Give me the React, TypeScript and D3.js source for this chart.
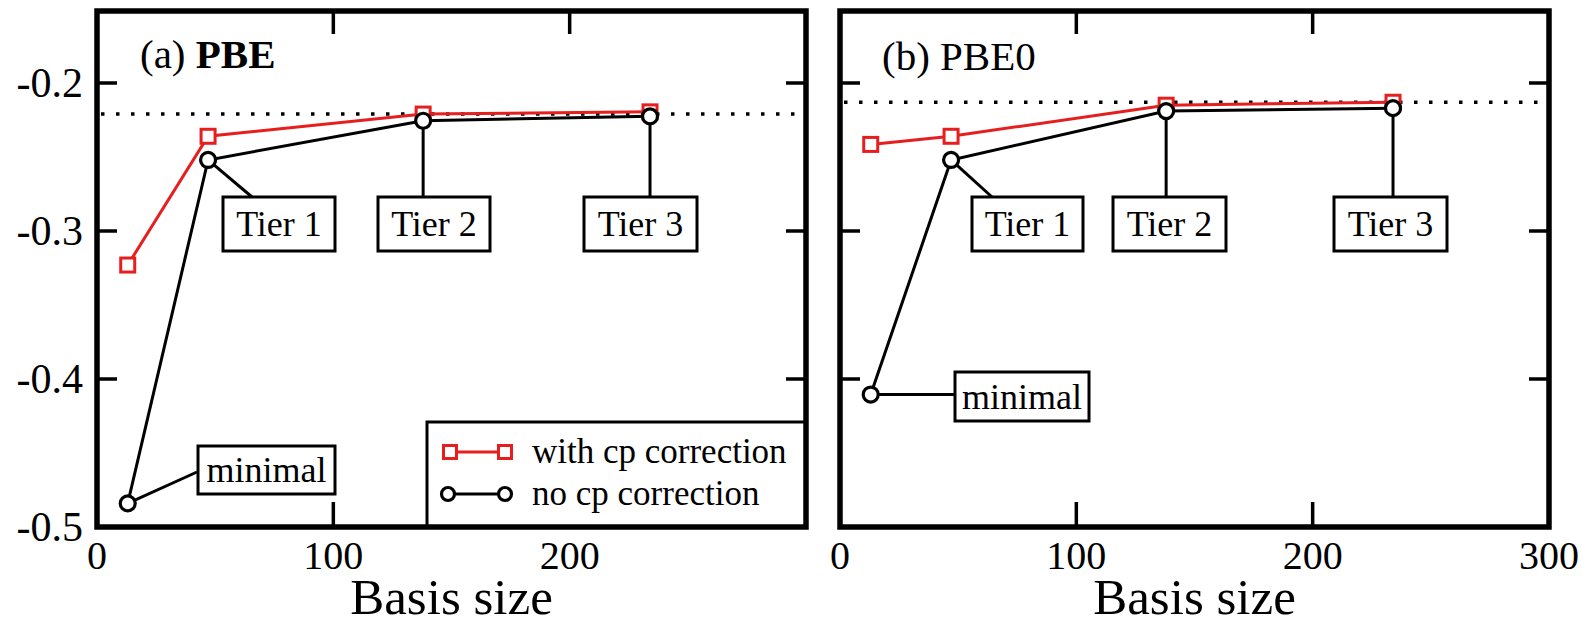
import * as d3 from 'd3';
import React from 'react';

// basis sizes of the four basis sets
const basisSize = [13, 47, 138, 234];
const tierNames = ['minimal', 'Tier 1', 'Tier 2', 'Tier 3'];

// (a) PBE binding energies
const pbeWithCp = [-0.323, -0.236, -0.221, -0.2195];
const pbeNoCp = [-0.484, -0.252, -0.2255, -0.2225];
const pbeReference = -0.221;

// (b) PBE0 binding energies
const pbe0WithCp = [-0.2415, -0.236, -0.215, -0.213];
const pbe0NoCp = [-0.4105, -0.252, -0.219, -0.217];
const pbe0Reference = -0.213;

const xTicks = [0, 100, 200, 300];
const yTicks = [-0.5, -0.4, -0.3, -0.2];
const legendLabels = ['with cp correction', 'no cp correction'];

const RED = '#e61e1e';
const FONT = '"Liberation Serif", "DejaVu Serif", serif';
const TOP = 9;
const BOTTOM = 527;

const panels = [
  {
    key: 'a',
    left: 97,
    right: 806,
    prefix: '(a) ',
    name: 'PBE',
    bold: true,
    titleX: 140,
    titleY: 68,
    withCp: pbeWithCp,
    noCp: pbeNoCp,
    reference: pbeReference,
    xLabels: [0, 100, 200],
    yLabels: true,
    legend: true,
    boxes: [
      { x: 198, y: 446, w: 137, h: 48, ax: 197, ay: 472 },
      { x: 223, y: 197, w: 112, h: 54, ax: 252, ay: 197 },
      { x: 378, y: 197, w: 112, h: 54, ax: null, ay: 197 },
      { x: 584, y: 197, w: 113, h: 54, ax: null, ay: 197 },
    ],
  },
  {
    key: 'b',
    left: 840,
    right: 1549,
    prefix: '(b) ',
    name: 'PBE0',
    bold: false,
    titleX: 882,
    titleY: 70,
    withCp: pbe0WithCp,
    noCp: pbe0NoCp,
    reference: pbe0Reference,
    xLabels: [0, 100, 200, 300],
    yLabels: false,
    legend: false,
    boxes: [
      { x: 955, y: 372, w: 134, h: 49, ax: 955, ay: null },
      { x: 972, y: 197, w: 111, h: 54, ax: 992, ay: 197 },
      { x: 1113, y: 197, w: 113, h: 54, ax: null, ay: 197 },
      { x: 1334, y: 197, w: 113, h: 54, ax: null, ay: 197 },
    ],
  },
];

function Square({ x, y, s = 14 }) {
  return <rect x={x - s / 2} y={y - s / 2} width={s} height={s} fill="#fff" stroke={RED} strokeWidth={3} />;
}

function Ring({ x, y, r = 7.5 }) {
  return <circle cx={x} cy={y} r={r} fill="#fff" stroke="#000" strokeWidth={3.2} />;
}

function Panel({ p }) {
  const x = d3.scaleLinear().domain([0, 300]).range([p.left, p.right]);
  const y = d3.scaleLinear().domain([-0.5, -0.15]).range([BOTTOM, TOP]);
  const line = d3.line<number>()
    .x((_, i) => x(basisSize[i]))
    .y(d => y(d));

  return (
    <g>
      {/* reference level */}
      <line x1={p.left + 4} x2={p.right - 4} y1={y(p.reference)} y2={y(p.reference)}
        stroke="#000" strokeWidth={3.5} strokeDasharray="3.5 11.5" />

      {/* callout lines */}
      {p.boxes.map((b, i) => {
        const px = x(basisSize[i]);
        const py = y(p.noCp[i]);
        return (
          <line key={'c' + i} x1={px} y1={py} x2={b.ax == null ? px : b.ax} y2={b.ay == null ? py : b.ay}
            stroke="#000" strokeWidth={3} />
        );
      })}

      <path d={line(p.withCp)} fill="none" stroke={RED} strokeWidth={3} />
      <path d={line(p.noCp)} fill="none" stroke="#000" strokeWidth={3} />
      {p.withCp.map((v, i) => <Square key={'s' + i} x={x(basisSize[i])} y={y(v)} />)}
      {p.noCp.map((v, i) => <Ring key={'r' + i} x={x(basisSize[i])} y={y(v)} />)}

      {/* labels for basis sets */}
      {p.boxes.map((b, i) => (
        <g key={'b' + i}>
          <rect x={b.x} y={b.y} width={b.w} height={b.h} fill="#fff" stroke="#000" strokeWidth={3} />
          <text x={b.x + b.w / 2} y={b.y + b.h / 2 + 12} textAnchor="middle" fontSize={36} fontFamily={FONT}>
            {tierNames[i]}
          </text>
        </g>
      ))}

      {/* ticks */}
      {yTicks.filter(t => t > -0.5).map(t => (
        <g key={'y' + t}>
          <line x1={p.left} x2={p.left + 20} y1={y(t)} y2={y(t)} stroke="#000" strokeWidth={3.5} />
          <line x1={p.right} x2={p.right - 20} y1={y(t)} y2={y(t)} stroke="#000" strokeWidth={3.5} />
        </g>
      ))}
      {xTicks.filter(t => t > 0 && t < 300).map(t => (
        <g key={'x' + t}>
          <line x1={x(t)} x2={x(t)} y1={TOP} y2={TOP + 25} stroke="#000" strokeWidth={3.5} />
          <line x1={x(t)} x2={x(t)} y1={BOTTOM} y2={BOTTOM - 25} stroke="#000" strokeWidth={3.5} />
        </g>
      ))}

      {p.legend && (
        <g>
          <rect x={427} y={422} width={p.right - 427} height={BOTTOM - 422} fill="#fff" stroke="#000" strokeWidth={3} />
          <line x1={450} x2={505} y1={452} y2={452} stroke={RED} strokeWidth={3} />
          <Square x={450} y={452} s={13} />
          <Square x={505} y={452} s={13} />
          <line x1={448} x2={505} y1={494} y2={494} stroke="#000" strokeWidth={3} />
          <Ring x={448} y={494} r={6.5} />
          <Ring x={505} y={494} r={6.5} />
          {legendLabels.map((l, i) => (
            <text key={l} x={532} y={463 + i * 42} fontSize={35} fontFamily={FONT}>{l}</text>
          ))}
        </g>
      )}

      {/* frame */}
      <rect x={p.left} y={TOP + 2} width={p.right - p.left} height={BOTTOM - TOP - 2} fill="none" stroke="#000" strokeWidth={5.5} />

      {/* tick labels */}
      {p.yLabels && yTicks.map(t => (
        <text key={'yl' + t} x={83} y={y(t) + 14} textAnchor="end" fontSize={42} fontFamily={FONT}>
          {d3.format('.1f')(t).replace('−', '-')}
        </text>
      ))}
      {p.xLabels.map(t => (
        <text key={'xl' + t} x={x(t)} y={569} textAnchor="middle" fontSize={40} fontFamily={FONT}>{t}</text>
      ))}
      <text x={(p.left + p.right) / 2} y={614} textAnchor="middle" fontSize={51} fontFamily={FONT}>Basis size</text>

      <text x={p.titleX} y={p.titleY} fontSize={41} fontFamily={FONT}>
        {p.prefix}
        <tspan fontWeight={p.bold ? 'bold' : 'normal'}>{p.name}</tspan>
      </text>
    </g>
  );
}

export default function App() {
  return (
    <div style={{ position: 'absolute', left: 0, top: 0 }}>
      <svg width={1587} height={627} style={{ display: 'block', background: '#fff' }}>
        {panels.map(p => <Panel key={p.key} p={p} />)}
      </svg>
    </div>
  );
}
